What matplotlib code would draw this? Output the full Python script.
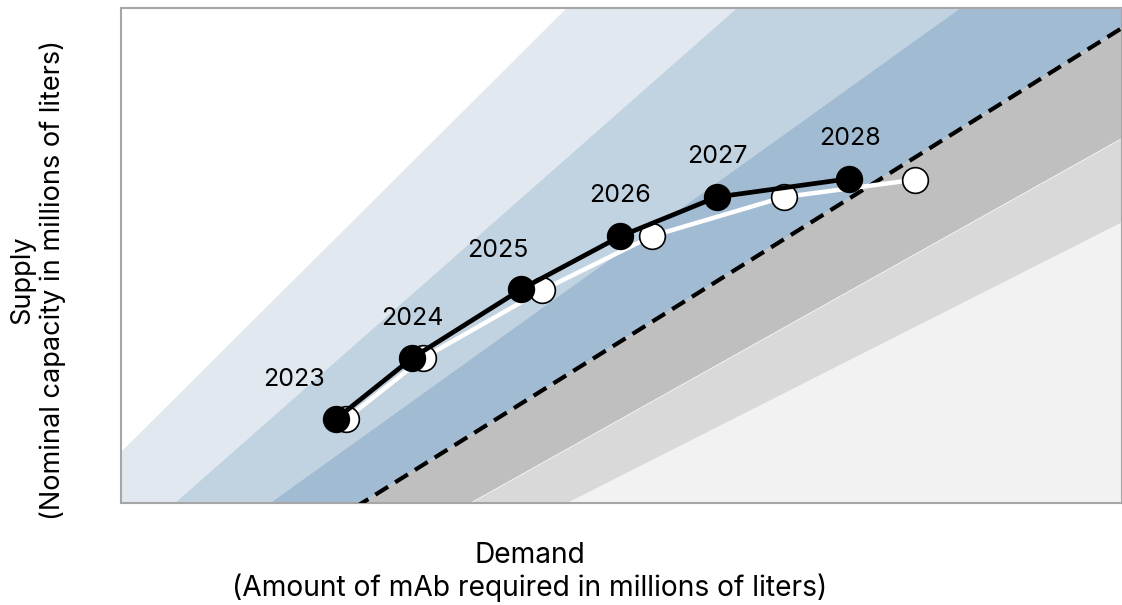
import numpy as np
import matplotlib
matplotlib.use("Agg")
import matplotlib.pyplot as plt

plt.rcParams['font.family'] = ['Inter', 'DejaVu Sans']

# ---- data (arbitrary units 0-100) ----
years = ["2023", "2024", "2025", "2026", "2027", "2028"]
black_x = [21.5, 29.1, 40.0, 49.9, 59.5, 72.7]
black_y = [17.0, 29.3, 43.2, 53.9, 61.8, 65.5]
white_x = [22.5, 30.2, 42.1, 53.0, 66.2, 79.3]
white_y = [17.0, 29.3, 43.0, 53.9, 61.8, 65.3]

# band boundary lines y = slope * x + intercept (top to bottom)
band_slopes = [2.014, 1.781, 1.450, 1.264, 1.132, 1.023]
band_intercepts = [10.3, -9.60, -21.59, -30.44, -39.47, -45.58]
band_colors = ['#e1e8ef', '#c1d3e1', '#a1bbd3', '#bfbfbf', '#d9d9d9', '#f2f2f2']
parity_index = 3  # dashed line = 4th boundary

label_dx = [-4.2, 0.0, -2.4, 0.0, 0.1, 0.1]
label_dy = [7.9, 7.9, 7.9, 8.3, 8.1, 8.1]

fig = plt.figure(figsize=(11.22, 6.05), dpi=100)
ax = fig.add_axes([121/1122, 102/605, 1001/1122, 495/605])
ax.set_xlim(0, 100)
ax.set_ylim(0, 100)

xs = np.array([0.0, 100.0])
lines = [s * xs + b for s, b in zip(band_slopes, band_intercepts)]
for i, c in enumerate(band_colors):
    upper = lines[i]
    lower = lines[i + 1] if i + 1 < len(lines) else np.full_like(xs, -1000.0)
    ax.fill_between(xs, lower, upper, color=c, lw=0, zorder=1)

ax.plot(xs, lines[parity_index], color='black', lw=3.0,
        linestyle=(0, (3.6, 2.0)), zorder=3)

ax.plot(white_x, white_y, color='white', lw=3.2, zorder=4,
        marker='o', ms=18.5, mfc='white', mec='black', mew=1.2)
ax.plot(black_x, black_y, color='black', lw=3.4, zorder=5,
        marker='o', ms=18.5, mfc='black', mec='black', mew=1.2)

for yr, x, y, dx, dy in zip(years, black_x, black_y, label_dx, label_dy):
    ax.text(x + dx, y + dy, yr, ha='center', va='center', fontsize=18, zorder=6)

ax.set_xticks([])
ax.set_yticks([])
for sp in ax.spines.values():
    sp.set_color('#a6a6a6')
    sp.set_linewidth(1.5)

fig.text(38/1122, 1 - 280/605, "Supply\n(Nominal capacity in millions of liters)",
         rotation=90, ha='center', va='center', fontsize=19.5, linespacing=1.2)
fig.text(530/1122, 1 - 572/605, "Demand\n(Amount of mAb required in millions of liters)",
         ha='center', va='center', fontsize=20.3, linespacing=1.22)

fig.savefig("out.png", dpi=100)
